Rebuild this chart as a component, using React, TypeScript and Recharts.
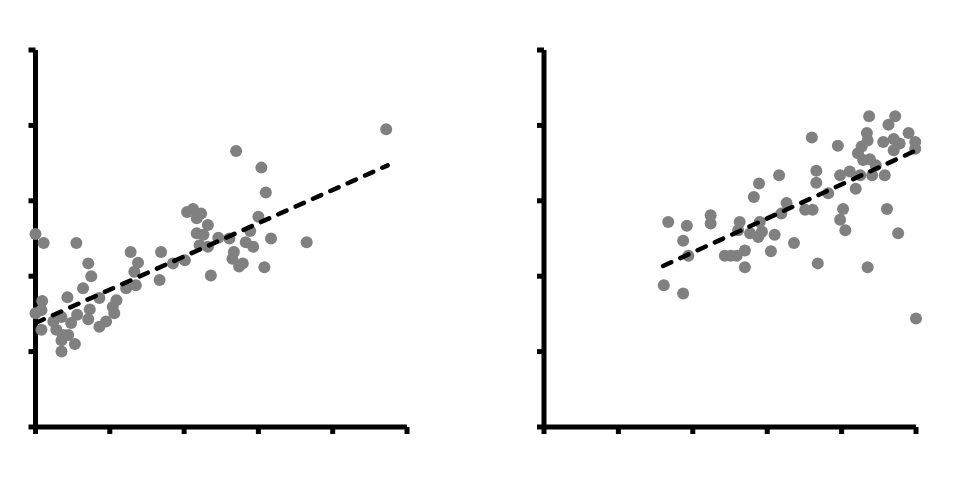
import React from "react";
import { ScatterChart, Scatter, XAxis, YAxis } from "recharts";

// Left panel data (x, y in axis units 0-50)
const leftX = [
  0, 1.1, 5.5, 12.8, 16.9, 7.1, 13.8, 7.5, 13.3, 16.7, 6.4, 12.2, 13.5, 0.9, 4.3, 8.6,
  10.9, 10.4, 0, 0.8, 7.3, 5.6, 3.5, 2.4, 10.6, 7.1, 4.8, 9.5, 8.6, 0.8, 2.8, 3.7,
  4.4, 3.5, 5.3, 3.5, 18.5, 20.1, 20.4, 21.2, 22.3, 21.7, 23.2, 21.7, 22.6, 22.1, 23.2,
  24.6, 26.1, 28.3, 29.3, 30.0, 28.9, 31.7, 26.7, 26.5, 27.9, 27.4, 30.8, 23.6, 31.0,
  30.4, 27.0, 36.5, 47.2,
];
const leftY = [
  25.6, 24.4, 24.4, 23.2, 23.2, 21.7, 21.8, 20.0, 20.6, 19.5, 18.4, 18.4, 18.8, 16.7, 17.2, 17.1,
  16.8, 15.9, 15.1, 15.5, 15.6, 14.9, 14.6, 14.0, 15.1, 14.3, 13.8, 14.0, 13.3, 12.9, 12.9, 12.2,
  12.2, 11.5, 11.0, 10.0, 21.7, 22.1, 28.5, 28.9, 28.3, 27.7, 26.8, 25.7, 25.5, 24.1, 23.9,
  25.1, 25.0, 24.5, 23.9, 27.9, 26.0, 25.0, 23.2, 22.3, 21.7, 21.3, 21.2, 20.1, 31.1,
  34.4, 36.6, 24.5, 39.5,
];
const leftTrendX = [0, 47.4];
const leftTrendY = [13.8, 34.7];

// Right panel data
const rightX = [
  16.7, 19.2, 18.7, 19.4, 22.4, 22.4, 16.1, 18.7, 24.3, 25.1, 25.9, 27.0, 27.0, 26.3, 26.1,
  27.7, 29.0, 28.8, 29.3, 31.0, 30.5, 33.6, 28.2, 28.9, 31.6, 32.6, 31.9, 35.1, 36.0, 39.5,
  43.7, 47.2, 46.3, 43.4, 43.5, 45.6, 47.0, 47.8, 49.0, 49.9, 49.9, 47.0, 42.7, 42.2, 42.9,
  43.8, 44.6, 36.6, 36.6, 38.2, 39.8, 41.1, 42.5, 44.1, 45.8, 41.9, 40.2, 39.8, 40.5, 46.1,
  47.6, 36.8, 43.5, 50.0, 36.1,
];
const rightY = [
  27.2, 26.7, 24.7, 22.7, 28.1, 27.0, 18.8, 17.7, 22.7, 22.7, 22.7, 23.4, 21.2, 27.2, 26.1,
  25.7, 27.2, 25.2, 25.9, 25.5, 23.3, 24.4, 30.5, 32.3, 33.4, 29.7, 28.3, 28.8, 38.4, 37.3,
  41.2, 41.2, 40.1, 39.0, 38.0, 37.8, 38.2, 37.6, 39.0, 37.8, 36.9, 36.7, 37.2, 36.3, 35.4,
  35.5, 34.7, 34.0, 32.4, 31.0, 33.4, 33.9, 33.4, 33.4, 33.4, 31.6, 28.9, 27.5, 26.1, 28.9,
  25.7, 21.7, 21.2, 14.4, 28.8,
];
const rightTrendX = [16.0, 49.6];
const rightTrendY = [21.35, 36.5];

const axisTicks = [0, 10, 20, 30, 40, 50];

const toPoints = (xs: number[], ys: number[]) => xs.map((x, i) => ({ x, y: ys[i] }));

const Dot = (props: any) => (
  <circle cx={props.cx} cy={props.cy} r={6} fill="#808080" />
);
const NoShape = () => <g />;
const NoTick = () => <g />;

const axisLine = { stroke: "#000", strokeWidth: 5 };
const tickLine = { stroke: "#000", strokeWidth: 5 };
const trendLine = {
  stroke: "#000",
  strokeWidth: 4.5,
  strokeDasharray: "9 10",
  strokeLinecap: "round",
};

function Panel({ xs, ys, tx, ty, marginLeft, marginRight }: any) {
  return (
    <ScatterChart
      width={460}
      height={460}
      margin={{ top: 42, right: marginRight, bottom: 21, left: marginLeft }}
    >
      <XAxis
        type="number"
        dataKey="x"
        domain={[0, 50]}
        ticks={axisTicks}
        interval={0}
        height={20}
        axisLine={axisLine}
        tickLine={tickLine}
        tickSize={7}
        tick={NoTick}
      />
      <YAxis
        type="number"
        dataKey="y"
        domain={[0, 50]}
        ticks={axisTicks}
        interval={0}
        width={20}
        axisLine={axisLine}
        tickLine={tickLine}
        tickSize={7}
        tick={NoTick}
      />
      <Scatter data={toPoints(xs, ys)} shape={Dot} isAnimationActive={false} />
      <Scatter
        data={toPoints(tx, ty)}
        shape={NoShape}
        line={trendLine}
        isAnimationActive={false}
      />
    </ScatterChart>
  );
}

export default function App() {
  return (
    <div style={{ position: "relative", width: 940, height: 462, background: "#fff" }}>
      <div style={{ position: "absolute", left: 0, top: 0 }}>
        <Panel xs={leftX} ys={leftY} tx={leftTrendX} ty={leftTrendY} marginLeft={7.5} marginRight={61} />
      </div>
      <div style={{ position: "absolute", left: 480, top: 0 }}>
        <Panel xs={rightX} ys={rightY} tx={rightTrendX} ty={rightTrendY} marginLeft={36} marginRight={32} />
      </div>
    </div>
  );
}
